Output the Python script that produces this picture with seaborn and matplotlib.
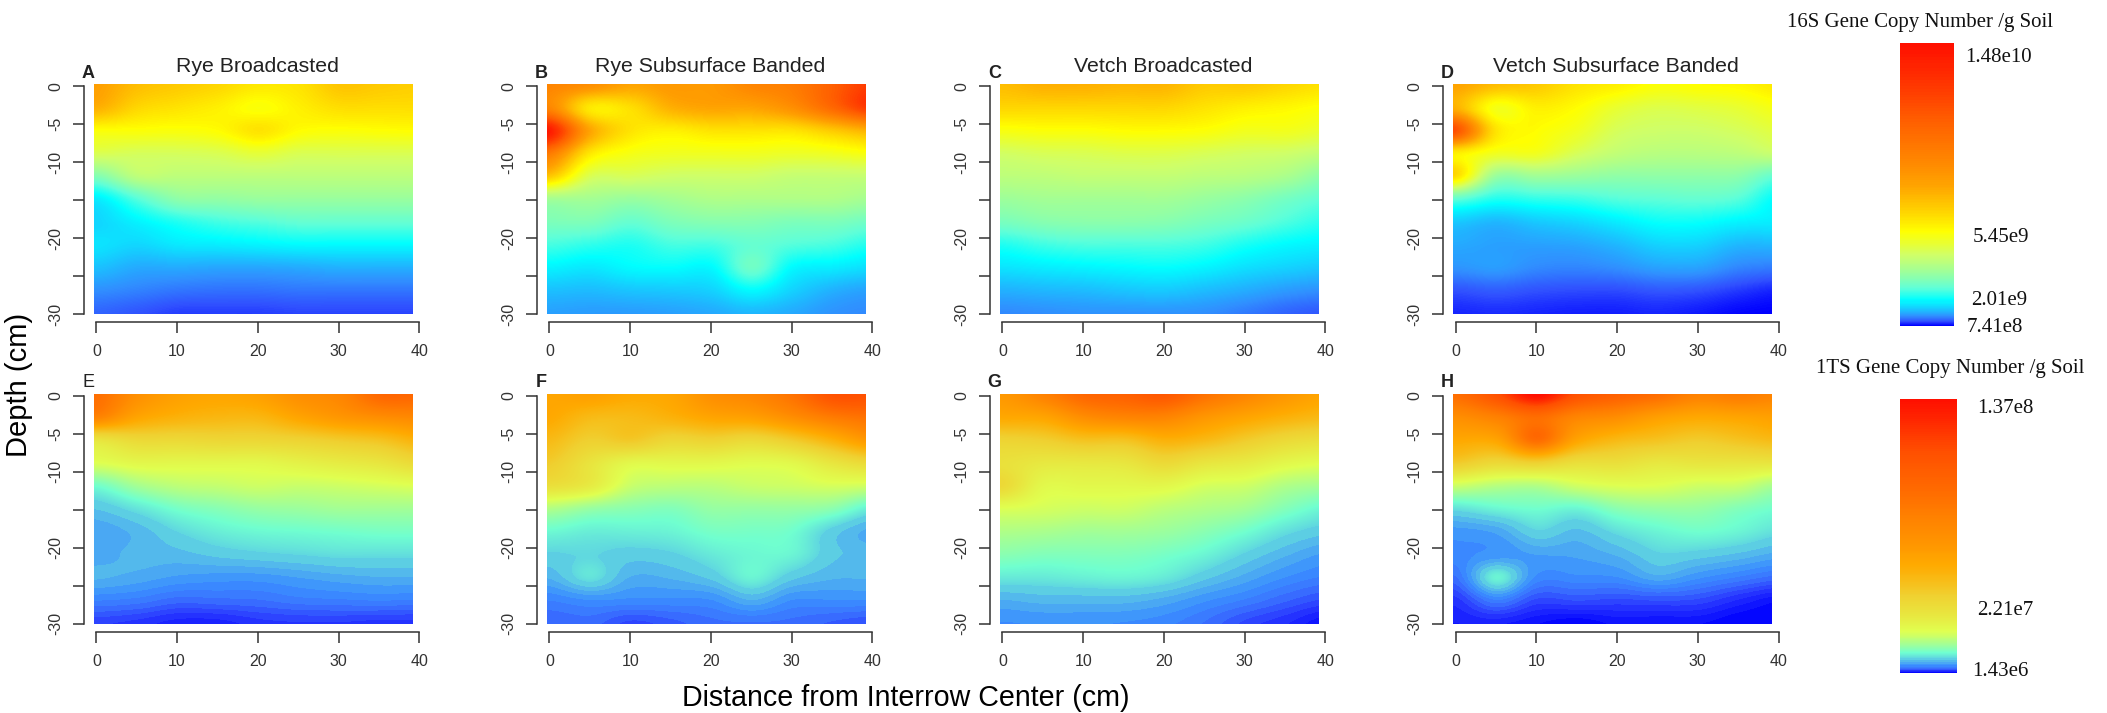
import numpy as np
import matplotlib
matplotlib.use("Agg")
import matplotlib.pyplot as plt
from matplotlib.colors import LinearSegmentedColormap, ListedColormap, Normalize
from matplotlib.patches import Rectangle
import seaborn as sns

W, H = 2107, 713
titles = ["Rye Broadcasted", "Rye Subsurface Banded", "Vetch Broadcasted", "Vetch Subsurface Banded"]
letters = ["A", "B", "C", "D", "E", "F", "G", "H"]
depth_ticks = [0, -5, -10, -15, -20, -25, -30]
depth_labels = ["0", "-5", "-10", "", "-20", "", "-30"]
dist_ticks = [0, 10, 20, 30, 40]

# Colour level (0..3, log scale) at depth 0,3,...,30 cm and distance 0,5,...,40 cm
panel_a = [[2.37,2.25,2.2,2.15,2.08,2.1,2.22,2.2,2.18],
           [2.3,2.15,2.1,2.05,1.98,2.05,2.12,2.12,2.12],
           [1.98,1.98,1.97,2.0,2.1,2.0,1.98,1.99,2.0],
           [1.8,1.78,1.78,1.8,1.86,1.8,1.8,1.8,1.8],
           [1.4,1.66,1.66,1.66,1.66,1.66,1.66,1.66,1.66],
           [.92,1.22,1.45,1.47,1.5,1.5,1.5,1.5,1.5],
           [.82,.95,1.08,1.17,1.22,1.27,1.27,1.27,1.27],
           [.88,.82,.9,.92,.95,.98,.98,.98,.98],
           [.72,.62,.62,.6,.6,.62,.65,.65,.65],
           [.5,.45,.4,.38,.38,.4,.4,.4,.4],
           [.33,.27,.2,.2,.2,.22,.22,.22,.22]]
panel_b = [[2.5,2.45,2.35,2.4,2.4,2.5,2.55,2.7,2.85],
           [2.5,2.08,2.12,2.3,2.35,2.35,2.45,2.65,2.85],
           [2.95,2.35,2.1,2.05,2.1,2.1,2.1,2.2,2.3],
           [2.55,2.08,1.95,1.92,1.92,1.92,1.9,1.92,1.97],
           [2.2,1.8,1.78,1.74,1.74,1.74,1.7,1.7,1.7],
           [1.55,1.55,1.5,1.55,1.6,1.6,1.6,1.6,1.55],
           [1.38,1.38,1.28,1.38,1.42,1.42,1.38,1.38,1.32],
           [1.18,1.12,1.08,1.18,1.18,1.28,1.22,1.18,1.08],
           [.95,.9,.98,1.0,.98,1.32,.98,.92,.85],
           [.72,.7,.74,.76,.8,.98,.8,.65,.58],
           [.58,.56,.56,.58,.62,.68,.62,.52,.48]]
panel_c = [[2.25,2.3,2.3,2.28,2.28,2.2,2.2,2.15,2.1],
           [2.15,2.15,2.15,2.15,2.15,2.1,2.05,2.02,1.98],
           [1.96,1.98,1.98,2.0,2.0,1.98,1.93,1.93,1.88],
           [1.76,1.79,1.8,1.82,1.82,1.79,1.76,1.74,1.68],
           [1.66,1.67,1.69,1.69,1.69,1.66,1.64,1.58,1.44],
           [1.52,1.55,1.55,1.55,1.55,1.5,1.44,1.34,1.25],
           [1.36,1.42,1.44,1.44,1.42,1.36,1.3,1.2,1.1],
           [1.08,1.16,1.2,1.2,1.2,1.16,1.06,.98,.94],
           [.88,.92,.95,.98,1.0,.95,.86,.8,.75],
           [.65,.68,.7,.74,.76,.7,.63,.55,.5],
           [.48,.5,.52,.52,.52,.5,.42,.33,.28]]
panel_d = [[2.35,2.25,2.2,2.1,2.05,1.98,2.0,2.02,2.08],
           [2.3,1.95,2.05,2.0,1.88,1.82,1.84,1.88,1.96],
           [2.75,2.1,2.0,1.92,1.78,1.74,1.74,1.78,1.85],
           [2.05,1.92,1.92,1.78,1.68,1.64,1.64,1.66,1.72],
           [2.12,1.5,1.53,1.5,1.46,1.46,1.46,1.44,1.25],
           [1.25,1.08,1.12,1.15,1.22,1.25,1.27,1.22,.98],
           [.76,.68,.76,.82,.92,1.02,1.02,.95,.92],
           [.62,.58,.58,.6,.68,.8,.8,.68,.68],
           [.52,.56,.48,.46,.5,.58,.58,.46,.42],
           [.26,.3,.26,.24,.24,.28,.26,.18,.11],
           [.12,.14,.12,.1,.1,.12,.08,.02,0]]
panel_e = [[2.72,2.55,2.45,2.42,2.45,2.55,2.6,2.75,2.75],
           [2.6,2.42,2.35,2.32,2.32,2.42,2.5,2.55,2.58],
           [2.0,2.1,2.1,2.12,2.12,2.15,2.2,2.25,2.35],
           [1.78,1.85,1.85,1.85,1.85,1.9,1.95,2.0,2.1],
           [1.35,1.55,1.65,1.68,1.72,1.7,1.72,1.75,1.78],
           [1.08,1.22,1.37,1.44,1.5,1.52,1.55,1.55,1.55],
           [.92,1.02,1.17,1.27,1.32,1.34,1.36,1.38,1.38],
           [.95,1.02,1.04,1.1,1.14,1.17,1.2,1.2,1.2],
           [1.0,.95,.88,.85,.85,.9,.95,.98,.98],
           [.72,.68,.58,.6,.62,.68,.7,.72,.7],
           [.38,.32,.22,.22,.32,.35,.35,.32,.32]]
panel_f = [[2.42,2.45,2.4,2.42,2.55,2.6,2.7,2.85,2.85],
           [2.4,2.3,2.3,2.35,2.42,2.45,2.55,2.65,2.7],
           [2.3,2.18,2.22,2.12,2.15,2.1,2.2,2.35,2.5],
           [2.2,2.02,1.85,1.85,1.85,1.82,1.85,2.0,2.1],
           [2.05,1.95,1.7,1.65,1.65,1.7,1.72,1.75,1.72],
           [1.6,1.5,1.45,1.42,1.5,1.5,1.5,1.45,1.25],
           [1.32,1.27,1.28,1.3,1.38,1.38,1.35,1.12,.95],
           [1.15,1.18,1.12,1.15,1.25,1.32,1.3,1.1,1.05],
           [1.0,1.22,.98,1.0,1.1,1.3,1.1,1.0,1.0],
           [.72,.8,.78,.78,.8,.98,.8,.8,.8],
           [.55,.58,.42,.5,.6,.62,.6,.52,.45]]
panel_g = [[2.5,2.62,2.75,2.78,2.82,2.7,2.6,2.5,2.42],
           [2.4,2.42,2.55,2.6,2.6,2.5,2.42,2.35,2.3],
           [2.15,2.18,2.25,2.25,2.35,2.3,2.2,2.1,2.05],
           [2.05,1.98,1.98,2.0,2.1,2.0,1.95,1.85,1.8],
           [2.1,1.85,1.85,1.85,1.85,1.75,1.72,1.6,1.55],
           [1.78,1.75,1.72,1.72,1.65,1.6,1.55,1.42,1.3],
           [1.6,1.58,1.55,1.55,1.52,1.45,1.35,1.2,1.1],
           [1.45,1.42,1.42,1.42,1.38,1.3,1.15,1.0,.88],
           [1.25,1.25,1.28,1.3,1.25,1.1,.95,.8,.7],
           [.98,1.02,1.02,1.02,.95,.82,.7,.55,.42],
           [.8,.82,.82,.8,.75,.62,.42,.28,.1]]
panel_h = [[2.72,2.85,3.0,2.85,2.78,2.72,2.62,2.65,2.6],
           [2.55,2.62,2.72,2.6,2.55,2.45,2.4,2.42,2.45],
           [2.4,2.42,2.72,2.42,2.3,2.25,2.2,2.25,2.3],
           [2.2,2.1,2.15,2.05,2.05,1.98,2.0,2.0,2.0],
           [1.7,1.62,1.6,1.72,1.78,1.78,1.72,1.7,1.55],
           [1.2,1.3,1.35,1.3,1.45,1.5,1.5,1.42,1.35],
           [.85,.92,1.15,1.05,1.2,1.3,1.35,1.3,1.2],
           [.78,.85,.9,.92,1.0,1.15,1.12,1.05,.95],
           [.62,1.3,.78,.78,.8,.95,.82,.7,.58],
           [.32,.7,.42,.45,.42,.45,.42,.25,.1],
           [.18,.2,.1,.02,.12,.1,.1,0,0]]
panels = [panel_a, panel_b, panel_c, panel_d, panel_e, panel_f, panel_g, panel_h]

# Legend scales
s16_range = (7.41e8, 1.48e10)
s16_ticks = ["1.48e10", "5.45e9", "2.01e9", "7.41e8"]
its_range = (1.43e6, 1.37e8)
its_ticks = ["1.37e8", "2.21e7", "1.43e6"]

s16_nodes = [(0, "#0000ff"), (.25/3, "#3050ff"), (.5/3, "#3090ff"), (1/3, "#00ffff"),
             (1.25/3, "#60ffd8"), (1.5/3, "#98ffa0"), (1.75/3, "#d0ff68"), (2/3, "#ffff00"),
             (2.37/3, "#ffa000"), (2.7/3, "#ff6000"), (1, "#ff1000")]
its_nodes = [(0, "#0000ff"), (.12, "#2a3aff"), (.2, "#3a70ff"), (.27, "#3a90ff"), (.33, "#50b0f0"),
             (.45, "#70ffd0"), (.6, "#e0ff50"), (.73, "#f0d030"), (.8, "#ffaa00"),
             (.88, "#ff8000"), (.955, "#ff5000"), (1, "#ff1000")]

sns.set_theme(style="ticks", rc={"axes.linewidth": 1.0})
plt.rcParams["font.family"] = ["Liberation Sans", "DejaVu Sans"]
INK = "#333333"
cmap16 = LinearSegmentedColormap.from_list("s16", s16_nodes, N=256)
# The 1TS colour ramp shows visible steps only in its blue end
_its_smooth = LinearSegmentedColormap.from_list("its_s", its_nodes, N=512)
_t = np.linspace(0, 1, 512)
_t_stepped = np.where(_t < 0.39, np.floor(_t / 0.03) * 0.03 + 0.015, _t)
cmapits = ListedColormap(_its_smooth(_t_stepped))
norm = Normalize(0, 3)

fig = plt.figure(figsize=(W / 100, H / 100), dpi=100, facecolor="white")


def fx(px):
    return px / W


def fy(py):
    return 1 - py / H


def box(l, t, r, b):
    return [fx(l), fy(b), fx(r) - fx(l), fy(t) - fy(b)]


for i, grid in enumerate(panels):
    col, row = i % 4, i // 4
    left = 93.5 + col * 453.07
    top = 84.0 + row * 309.7
    ax = fig.add_axes(box(left, top, left + 325.8, top + 230.3))
    ax.patch.set_visible(False)
    im = ax.imshow(np.array(grid), cmap=cmap16 if row == 0 else cmapits, norm=norm, aspect="auto",
                   extent=(-2.5, 42.5, -31.5, 1.5), origin="upper",
                   interpolation="catrom", interpolation_stage="data")
    ax.set_xlim(-0.35, 40)
    ax.set_ylim(-30.04, 0.3)
    im.set_clip_path(Rectangle((-0.35, -30.04), 39.4, 30.34, transform=ax.transData))
    sns.despine(ax=ax, offset={"left": 7.2, "bottom": 5.8})
    ax.spines["left"].set_bounds(-30, 0)
    ax.spines["bottom"].set_bounds(0, 40)
    for side in ("left", "bottom"):
        ax.spines[side].set_color(INK)
        ax.spines[side].set_linewidth(1.1)
    ax.set_xticks(dist_ticks)
    ax.set_xticklabels([str(t) for t in dist_ticks], fontsize=11.5, color=INK)
    ax.set_yticks(depth_ticks)
    ax.set_yticklabels(depth_labels, fontsize=11.5, color=INK, rotation=90, va="center")
    ax.tick_params(axis="x", length=7.7, width=1.1, color=INK, pad=8)
    ax.tick_params(axis="y", length=7.7, width=1.1, color=INK, pad=7)
    fig.text(fx(left - 5), fy(top - 11), letters[i], fontsize=13, fontweight="normal" if i == 4 else "bold",
             color="#222222", ha="center", va="center")
    if row == 0:
        fig.text(fx(left + 163.5), fy(66), titles[col], fontsize=15.3, color="#222222", ha="center", va="center")

fig.text(fx(19), fy(385), "Depth (cm)", fontsize=21, color="black", rotation=90, ha="center", va="center")
fig.text(fx(906), fy(698), "Distance from Interrow Center (cm)", fontsize=20.6, color="black", ha="center", va="center")


def legend_bar(rng, cmap, l, t, r, b):
    cax = fig.add_axes(box(l, t, r, b))
    copies = np.linspace(rng[1], rng[0], 280)[:, None]
    level = 3 * np.log(copies / rng[0]) / np.log(rng[1] / rng[0])
    sns.heatmap(level, ax=cax, cmap=cmap, vmin=0, vmax=3, cbar=False, xticklabels=False, yticklabels=False)


legend_bar(s16_range, cmap16, 1900, 43.3, 1953.7, 325.7)
legend_bar(its_range, cmapits, 1900, 399, 1957, 672.7)

SERIF = ["Liberation Serif", "DejaVu Serif"]
fig.text(fx(1786.7), fy(22), "16S Gene Copy Number /g Soil", family=SERIF, fontsize=15, color="#111111", va="center")
fig.text(fx(1816), fy(369), "1TS Gene Copy Number /g Soil", family=SERIF, fontsize=15, color="#111111", va="center")
for label, px, py in zip(s16_ticks, [1965, 1972.7, 1970.7, 1966.7], [57, 237, 300.7, 327.7]):
    fig.text(fx(px), fy(py), label, family=SERIF, fontsize=15, color="#111111", va="center")
for label, px, py in zip(its_ticks, [1977, 1976.7, 1971.7], [408.7, 610.7, 671.7]):
    fig.text(fx(px), fy(py), label, family=SERIF, fontsize=15, color="#111111", va="center")

fig.savefig("out.png", dpi=100)
